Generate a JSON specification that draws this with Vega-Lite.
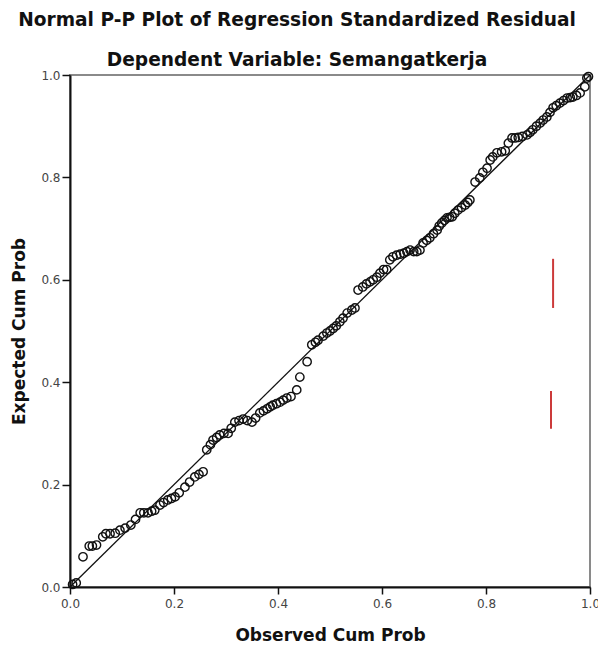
{
  "$schema": "https://vega.github.io/schema/vega-lite/v6.json",
  "autosize": "none",
  "width": 520,
  "height": 512,
  "padding": {"left": 70, "top": 75, "right": 8, "bottom": 60},
  "background": "white",
  "config": {
    "view": {"stroke": "#8a8a8a", "strokeWidth": 2},
    "font": "DejaVu Sans"
  },
  "title": {
    "text": ["Normal P-P Plot of Regression Standardized Residual", "Dependent Variable: Semangatkerja"],
    "anchor": "middle",
    "font": "DejaVu Sans",
    "fontSize": 18.6,
    "fontWeight": "bold",
    "color": "#111",
    "lineHeight": 40,
    "dx": -33,
    "offset": -1
  },
  "datasets": {
    "pts": [
      {"obs": 0.005, "exp": 0.005}, {"obs": 0.012, "exp": 0.008},
      {"obs": 0.025, "exp": 0.059},
      {"obs": 0.037, "exp": 0.08}, {"obs": 0.043, "exp": 0.08}, {"obs": 0.051, "exp": 0.082},
      {"obs": 0.063, "exp": 0.098}, {"obs": 0.069, "exp": 0.104}, {"obs": 0.077, "exp": 0.104},
      {"obs": 0.087, "exp": 0.105}, {"obs": 0.096, "exp": 0.111}, {"obs": 0.106, "exp": 0.115},
      {"obs": 0.117, "exp": 0.121}, {"obs": 0.126, "exp": 0.132}, {"obs": 0.135, "exp": 0.145},
      {"obs": 0.142, "exp": 0.145}, {"obs": 0.15, "exp": 0.145}, {"obs": 0.157, "exp": 0.148},
      {"obs": 0.163, "exp": 0.15}, {"obs": 0.173, "exp": 0.16}, {"obs": 0.18, "exp": 0.165},
      {"obs": 0.188, "exp": 0.17}, {"obs": 0.195, "exp": 0.173}, {"obs": 0.202, "exp": 0.176},
      {"obs": 0.21, "exp": 0.184}, {"obs": 0.221, "exp": 0.195}, {"obs": 0.23, "exp": 0.205},
      {"obs": 0.24, "exp": 0.215}, {"obs": 0.248, "exp": 0.22}, {"obs": 0.256, "exp": 0.225},
      {"obs": 0.263, "exp": 0.268}, {"obs": 0.27, "exp": 0.278}, {"obs": 0.275, "exp": 0.287},
      {"obs": 0.282, "exp": 0.292}, {"obs": 0.288, "exp": 0.297}, {"obs": 0.296, "exp": 0.3},
      {"obs": 0.304, "exp": 0.3}, {"obs": 0.31, "exp": 0.31}, {"obs": 0.317, "exp": 0.322},
      {"obs": 0.325, "exp": 0.325}, {"obs": 0.333, "exp": 0.328}, {"obs": 0.341, "exp": 0.325},
      {"obs": 0.35, "exp": 0.322}, {"obs": 0.357, "exp": 0.33}, {"obs": 0.365, "exp": 0.34},
      {"obs": 0.372, "exp": 0.344}, {"obs": 0.379, "exp": 0.348}, {"obs": 0.385, "exp": 0.352},
      {"obs": 0.39, "exp": 0.355}, {"obs": 0.397, "exp": 0.358}, {"obs": 0.404, "exp": 0.361},
      {"obs": 0.41, "exp": 0.365}, {"obs": 0.417, "exp": 0.369}, {"obs": 0.425, "exp": 0.372},
      {"obs": 0.436, "exp": 0.385}, {"obs": 0.442, "exp": 0.41}, {"obs": 0.456, "exp": 0.44},
      {"obs": 0.465, "exp": 0.473}, {"obs": 0.472, "exp": 0.478}, {"obs": 0.477, "exp": 0.482},
      {"obs": 0.487, "exp": 0.49}, {"obs": 0.494, "exp": 0.496}, {"obs": 0.5, "exp": 0.5},
      {"obs": 0.506, "exp": 0.505}, {"obs": 0.512, "exp": 0.51}, {"obs": 0.519, "exp": 0.518},
      {"obs": 0.525, "exp": 0.525}, {"obs": 0.533, "exp": 0.535}, {"obs": 0.542, "exp": 0.541},
      {"obs": 0.548, "exp": 0.545}, {"obs": 0.554, "exp": 0.58}, {"obs": 0.563, "exp": 0.586},
      {"obs": 0.57, "exp": 0.592}, {"obs": 0.577, "exp": 0.596}, {"obs": 0.583, "exp": 0.6},
      {"obs": 0.59, "exp": 0.605}, {"obs": 0.596, "exp": 0.613}, {"obs": 0.603, "exp": 0.62},
      {"obs": 0.609, "exp": 0.62}, {"obs": 0.615, "exp": 0.639}, {"obs": 0.621, "exp": 0.645},
      {"obs": 0.628, "exp": 0.648}, {"obs": 0.635, "exp": 0.65}, {"obs": 0.642, "exp": 0.652},
      {"obs": 0.648, "exp": 0.655}, {"obs": 0.654, "exp": 0.658}, {"obs": 0.661, "exp": 0.655},
      {"obs": 0.667, "exp": 0.655}, {"obs": 0.673, "exp": 0.658}, {"obs": 0.679, "exp": 0.672},
      {"obs": 0.686, "exp": 0.677}, {"obs": 0.692, "exp": 0.682}, {"obs": 0.699, "exp": 0.69},
      {"obs": 0.706, "exp": 0.697}, {"obs": 0.71, "exp": 0.705}, {"obs": 0.715, "exp": 0.711},
      {"obs": 0.72, "exp": 0.716}, {"obs": 0.725, "exp": 0.721}, {"obs": 0.73, "exp": 0.722},
      {"obs": 0.735, "exp": 0.723}, {"obs": 0.74, "exp": 0.73}, {"obs": 0.746, "exp": 0.736},
      {"obs": 0.753, "exp": 0.741}, {"obs": 0.76, "exp": 0.746}, {"obs": 0.765, "exp": 0.751},
      {"obs": 0.769, "exp": 0.756}, {"obs": 0.779, "exp": 0.791}, {"obs": 0.788, "exp": 0.799},
      {"obs": 0.794, "exp": 0.81}, {"obs": 0.802, "exp": 0.818}, {"obs": 0.808, "exp": 0.834},
      {"obs": 0.813, "exp": 0.84}, {"obs": 0.821, "exp": 0.848}, {"obs": 0.83, "exp": 0.85},
      {"obs": 0.837, "exp": 0.852}, {"obs": 0.843, "exp": 0.867}, {"obs": 0.85, "exp": 0.877},
      {"obs": 0.856, "exp": 0.877}, {"obs": 0.862, "exp": 0.878}, {"obs": 0.87, "exp": 0.88},
      {"obs": 0.879, "exp": 0.883}, {"obs": 0.885, "exp": 0.888}, {"obs": 0.89, "exp": 0.893},
      {"obs": 0.897, "exp": 0.9}, {"obs": 0.904, "exp": 0.906}, {"obs": 0.91, "exp": 0.912},
      {"obs": 0.917, "exp": 0.918}, {"obs": 0.923, "exp": 0.927}, {"obs": 0.929, "exp": 0.936},
      {"obs": 0.935, "exp": 0.94}, {"obs": 0.942, "exp": 0.945}, {"obs": 0.949, "exp": 0.95},
      {"obs": 0.956, "exp": 0.955}, {"obs": 0.962, "exp": 0.956}, {"obs": 0.967, "exp": 0.957},
      {"obs": 0.974, "exp": 0.96}, {"obs": 0.981, "exp": 0.965}, {"obs": 0.99, "exp": 0.977},
      {"obs": 0.994, "exp": 0.994}, {"obs": 0.997, "exp": 0.997}
    ],
    "diag": [{"obs": 0, "exp": 0}, {"obs": 1, "exp": 1}],
    "marks": [
      {"obs": 0.929, "exp": 0.545, "exp2": 0.641},
      {"obs": 0.925, "exp": 0.309, "exp2": 0.383}
    ]
  },
  "layer": [
    {
      "data": {"name": "diag"},
      "mark": {"type": "line", "color": "#111", "strokeWidth": 1.3},
      "encoding": {
        "x": {
          "field": "obs", "type": "quantitative",
          "scale": {"domain": [0, 1], "nice": false},
          "axis": {
            "title": "Observed Cum Prob",
            "values": [0, 0.2, 0.4, 0.6, 0.8, 1.0],
            "format": ".1f",
            "grid": false,
            "labelFlush": false,
            "labelFont": "DejaVu Sans",
            "labelFontSize": 12,
            "labelColor": "#444",
            "labelPadding": 4,
            "tickSize": 7,
            "tickColor": "#111",
            "tickWidth": 1.5,
            "domainColor": "#111",
            "domainWidth": 2,
            "titleFont": "DejaVu Sans",
            "titleFontSize": 17,
            "titleFontWeight": "bold",
            "titleColor": "#111",
            "titlePadding": 18
          }
        },
        "y": {
          "field": "exp", "type": "quantitative",
          "scale": {"domain": [0, 1], "nice": false},
          "axis": {
            "title": "Expected Cum Prob",
            "values": [0, 0.2, 0.4, 0.6, 0.8, 1.0],
            "format": ".1f",
            "grid": false,
            "labelFlush": false,
            "labelFont": "DejaVu Sans",
            "labelFontSize": 12,
            "labelColor": "#444",
            "labelPadding": 2,
            "tickSize": 8,
            "tickColor": "#111",
            "tickWidth": 1.5,
            "domainColor": "#111",
            "domainWidth": 2,
            "titleFont": "DejaVu Sans",
            "titleFontSize": 17,
            "titleFontWeight": "bold",
            "titleColor": "#111",
            "titlePadding": 12
          }
        }
      }
    },
    {
      "data": {"name": "pts"},
      "mark": {"type": "point", "shape": "circle", "filled": false, "color": "#111", "strokeWidth": 1.4, "size": 70, "opacity": 1},
      "encoding": {
        "x": {"field": "obs", "type": "quantitative"},
        "y": {"field": "exp", "type": "quantitative"}
      }
    },
    {
      "data": {"name": "marks"},
      "mark": {"type": "rule", "color": "#cc3a3a", "strokeWidth": 2},
      "encoding": {
        "x": {"field": "obs", "type": "quantitative"},
        "y": {"field": "exp", "type": "quantitative"},
        "y2": {"field": "exp2"}
      }
    }
  ]
}
